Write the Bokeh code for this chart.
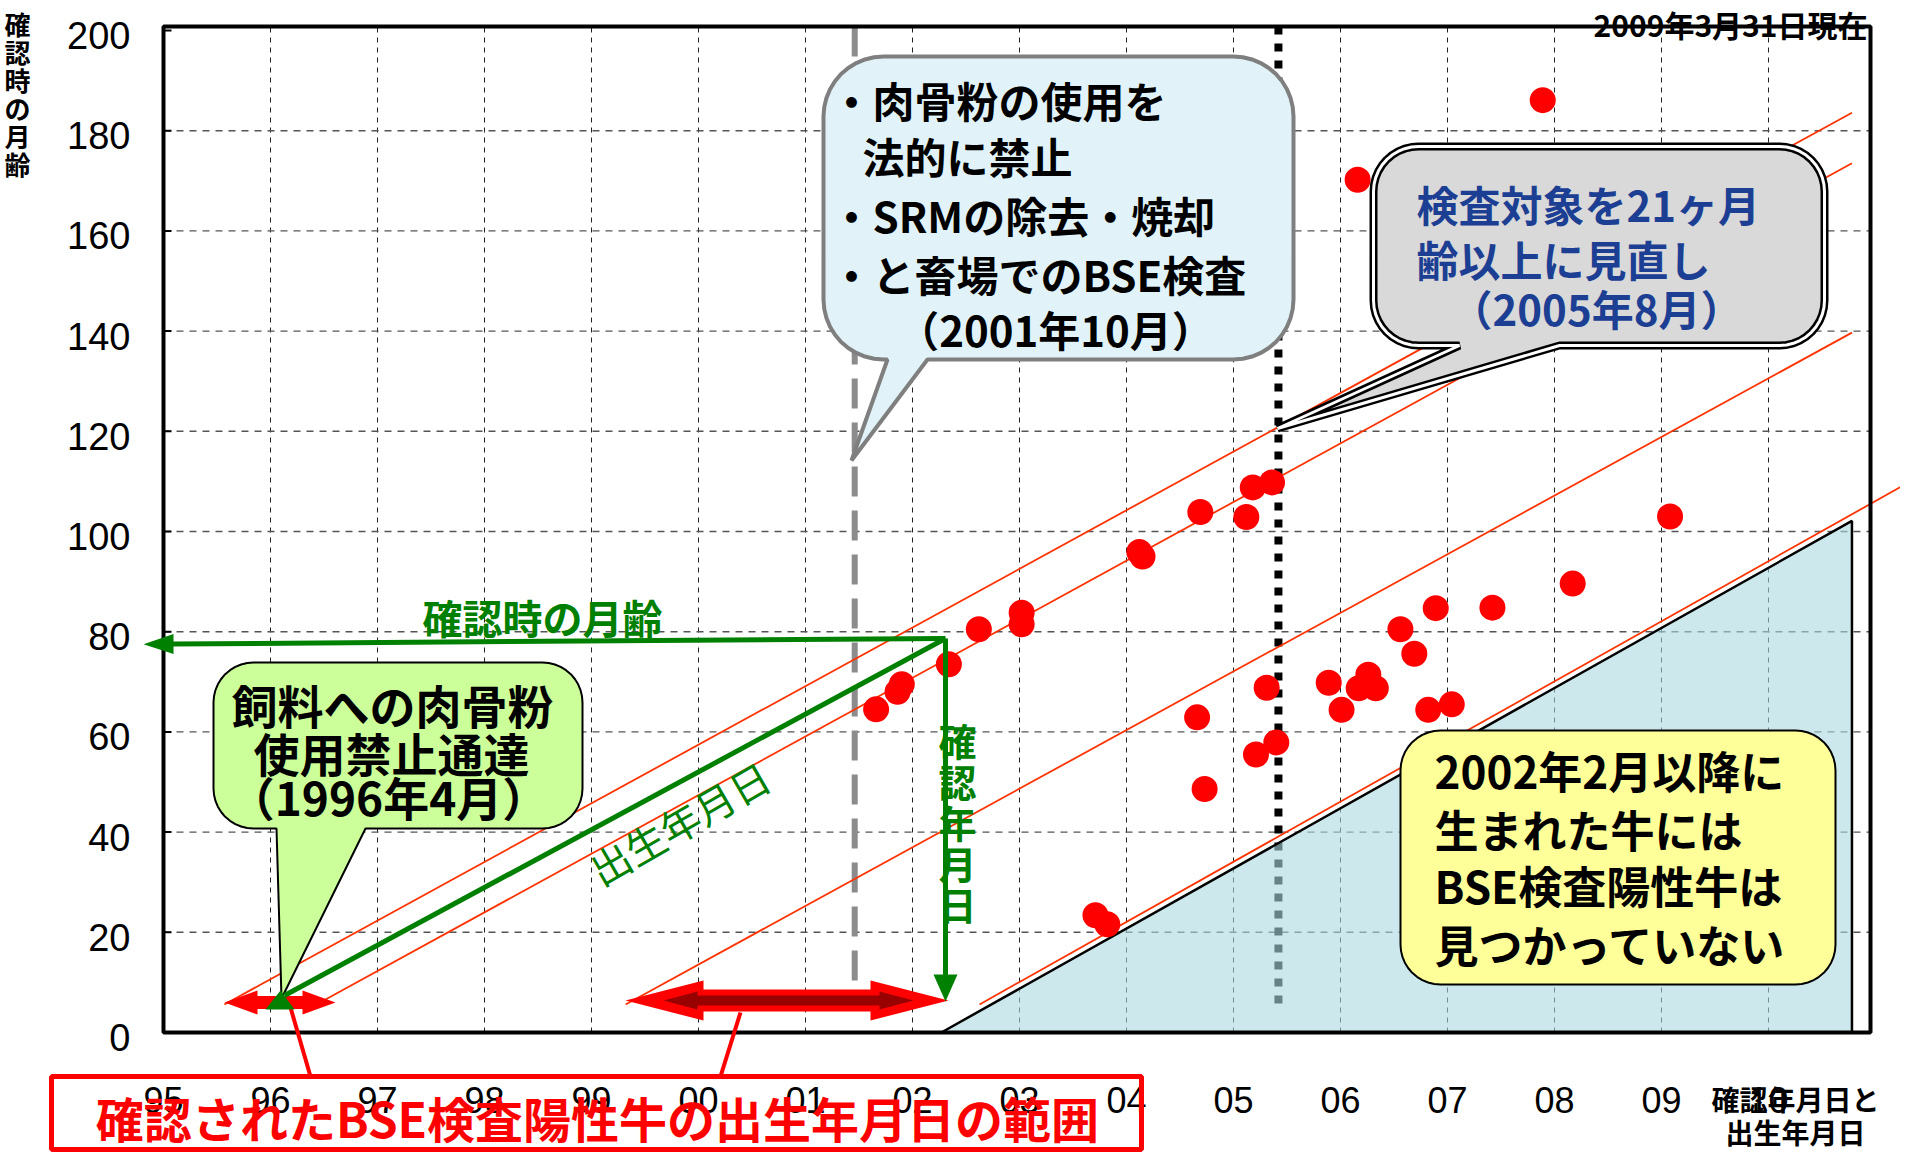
import numpy as np
from bokeh.plotting import figure
from bokeh.models import Range1d
from bokeh.core.properties import value
from bokeh.embed import file_html
from bokeh.resources import INLINE

# ---------------- data ----------------
# confirmation date (decimal year) and age in months at confirmation
CONF_DATE = [2001.66, 2001.86, 2001.90, 2002.34, 2002.62, 2003.02, 2003.02, 2003.71,
             2003.82, 2004.12, 2004.15, 2004.66, 2004.69, 2004.73, 2005.12, 2005.18,
             2005.21, 2005.31, 2005.36, 2005.40, 2005.89, 2006.01, 2006.16, 2006.17,
             2006.26, 2006.33, 2006.56, 2006.69, 2006.82, 2006.89, 2007.04, 2007.42,
             2007.89, 2008.17, 2009.08]
CONF_AGE = [64.5, 68.0, 69.5, 73.5, 80.5, 83.8, 81.5, 23.4,
            21.6, 95.9, 95.0, 62.9, 103.9, 48.6, 102.9, 108.8,
            55.5, 68.8, 109.8, 57.9, 69.8, 64.4, 170.2, 68.7,
            71.4, 68.7, 80.5, 75.6, 64.4, 84.7, 65.5, 84.8,
            186.1, 89.6, 103.0]

YEAR_TICKS = list(range(1995, 2011))
YEAR_LABELS = ["95", "96", "97", "98", "99", "00", "01", "02", "03", "04",
               "05", "06", "07", "08", "09", "10"]
AGE_TICKS = list(range(0, 201, 20))
AGE_LABELS = [str(a) for a in AGE_TICKS]

# birth-date reference lines (age grows with confirmation date)
LINE_BIRTH = [1995.09, 1995.95, 1998.84, 2002.16]
LINE_SLOPE = [11.7, 11.7, 11.7, 12.0]
LINE_END = [2010.78, 2010.78, 2010.78, 2011.5]
LINE_START_AGE = 5.6

FREE_BIRTH = 2002.27      # born Feb 2002 or later: no positives
FREE_END = 2010.78
EVENT_BAN = 2001.46       # 2001-10 legal ban / BSE testing
EVENT_REVIEW = 2005.42    # 2005-08 review to 21 months
EVENT_END_AGE = [8.6, 5.6]

FONT = "Noto Sans CJK JP"

# ---------------- layout ----------------
W, H, PAGE = 1900, 1152, 8
X0, X1, YB, YT = 171, 1878, 1040, 34          # plot box in reference pixels
T0 = 1995.0
T1 = T0 + (X1 - X0) / 107.0
A0 = 0.0
A1 = (YB - YT) / 5.01


def tx(X):
    return T0 + (X - X0) * (T1 - T0) / (X1 - X0)


def ay(Y):
    return A0 + (YB - Y) * (A1 - A0) / (YB - YT)


p = figure(width=W, height=H, output_backend="svg", toolbar_location=None,
           x_range=Range1d(tx(PAGE), tx(PAGE + W)),
           y_range=Range1d(ay(PAGE + H), ay(PAGE)),
           min_border=0)
p.background_fill_color = "white"
p.border_fill_color = "white"
p.outline_line_color = None
p.xaxis.visible = False
p.yaxis.visible = False
p.xgrid.visible = False
p.ygrid.visible = False

# ---------------- grid (inside plot box only) ----------------
gx = YEAR_TICKS[1:]
p.segment(x0=gx, x1=gx, y0=[A0] * len(gx), y1=[A1] * len(gx),
          line_color="#222222", line_width=1, line_dash="5 5")
gy = AGE_TICKS[1:-1]
p.segment(x0=[T0] * len(gy), x1=[T1] * len(gy), y0=gy, y1=gy,
          line_color="#555555", line_width=1.4, line_dash="7 6")

# ---------------- event lines ----------------
p.line([EVENT_BAN, EVENT_BAN], [A1, EVENT_END_AGE[0]], line_color="#8c8c8c",
       line_width=6, line_dash="30 14")
p.line([EVENT_REVIEW, EVENT_REVIEW], [A1, EVENT_END_AGE[1]], line_color="black",
       line_width=8, line_dash="8 9")

# ---------------- birth-date lines ----------------
for b, s, te in zip(LINE_BIRTH, LINE_SLOPE, LINE_END):
    ts = b + LINE_START_AGE / s
    p.line([ts, te], [LINE_START_AGE, s * (te - b)], line_color="#ff3300", line_width=1.8)

# shaded region
p.patch([FREE_BIRTH, FREE_END, FREE_END], [0, 12 * (FREE_END - FREE_BIRTH), 0],
        fill_color="#acd9df", fill_alpha=0.6, line_color="black", line_width=2.5)

# plot box and axis ticks
p.quad(left=[T0], right=[T1], bottom=[A0], top=[A1], fill_color=None,
       line_color="black", line_width=4)
p.segment(x0=[T0] * len(AGE_TICKS), y0=AGE_TICKS, x1=[tx(179)] * len(AGE_TICKS),
          y1=AGE_TICKS, line_color="black", line_width=2)
p.text(x=[tx(138)] * len(AGE_TICKS), y=[a - 1.0 for a in AGE_TICKS], text=AGE_LABELS,
       text_font=value("Liberation Sans"), text_font_size=value("38px"),
       text_color="black", text_align="right", text_baseline="middle")
p.text(x=YEAR_TICKS, y=[ay(1107)] * len(YEAR_TICKS), text=YEAR_LABELS,
       text_font=value("Liberation Sans"), text_font_size=value("36px"),
       text_color="black", text_align="center", text_baseline="middle")

# points
p.scatter(CONF_DATE, CONF_AGE, size=26, color="#ff0000", line_color=None)


# ---------------- helpers ----------------
def rbox(x0, y0, x1, y1, r, tail=None, n=10):
    pts = []

    def arc(cx, cy, a0, a1):
        for k in range(n + 1):
            a = np.radians(a0 + (a1 - a0) * k / n)
            pts.append((cx + r * np.cos(a), cy + r * np.sin(a)))
    arc(x0 + r, y0 + r, 180, 270)
    arc(x1 - r, y0 + r, 270, 360)
    arc(x1 - r, y1 - r, 0, 90)
    if tail:
        bl, br, tpx, tpy = tail
        pts += [(br, y1), (tpx, tpy), (bl, y1)]
    arc(x0 + r, y1 - r, 90, 180)
    return [tx(a) for a, _ in pts], [ay(b) for _, b in pts]


def poly(pts):
    return [tx(a) for a, _ in pts], [ay(b) for _, b in pts]


def darrow(xl, xr, yc, hl, hh, sh):
    return poly([(xl, yc), (xl + hl, yc - hh), (xl + hl, yc - sh), (xr - hl, yc - sh),
                 (xr - hl, yc - hh), (xr, yc), (xr - hl, yc + hh), (xr - hl, yc + sh),
                 (xl + hl, yc + sh), (xl + hl, yc + hh)])


def txt(items, size, color="black", align="left", bold=True, angle=0.0, baseline="middle"):
    p.text(x=[tx(i[1]) for i in items], y=[ay(i[2]) for i in items],
           text=[i[0] for i in items], text_font=value(FONT),
           text_font_size=value(f"{size}px"), text_color=color,
           text_align=align, text_baseline=baseline,
           text_font_style="bold" if bold else "normal", angle=angle)


# ---------------- callouts ----------------
xs, ys = rbox(831, 64, 1301, 367, 60, tail=(895, 935, 859, 468))
p.patch(xs, ys, fill_color="#e1f3f8", line_color="#7f7f7f", line_width=4)

xs, ys = rbox(1381, 154, 1832, 353, 45, tail=(1467, 1567, 1285, 436))
p.patch(xs, ys, fill_color="#d9d9d9", line_color="black", line_width=8)
p.patch(xs, ys, fill_color=None, line_color="white", line_width=3)

xs, ys = rbox(221, 670, 590, 836, 40, tail=(284, 373, 289, 1006))
p.patch(xs, ys, fill_color="#ccff99", line_color="black", line_width=2)

xs, ys = rbox(1408, 738, 1843, 992, 40)
p.patch(xs, ys, fill_color="#ffff99", line_color="black", line_width=2)

# ---------------- red range arrows ----------------
xs, ys = darrow(232, 343, 1010, 33, 12, 6.5)
p.patch(xs, ys, fill_color="#ff0000", line_color=None)
xs, ys = darrow(633, 956, 1008, 78, 20, 11)
p.patch(xs, ys, fill_color="#ff0000", line_color=None)
xs, ys = darrow(671, 921, 1008, 34, 9, 5)
p.patch(xs, ys, fill_color="#990000", line_color=None)

# connectors and range box
for a, b in (((298, 1015), (318, 1084)), ((748, 1020), (728, 1084))):
    xs, ys = poly([a, b])
    p.line(xs, ys, line_color="#ff0000", line_width=4)
xs, ys = poly([(59, 1084), (1149, 1084), (1149, 1157), (59, 1157)])
p.patch(xs, ys, fill_color=None, line_color="#ff0000", line_width=5)

# ---------------- green guide arrows ----------------
G = "#008000"
p.line([tx(953), tx(178)], [ay(646), ay(651.5)], line_color=G, line_width=5)
p.line([tx(953), tx(953)], [ay(646), ay(985)], line_color=G, line_width=5)
p.line([tx(953), tx(292)], [ay(646), ay(1003)], line_color=G, line_width=5)
for tri in ([(953, 1009), (941, 982), (965, 982)],
            [(273, 1017), (302, 1017), (288, 998)],
            [(151, 651.7), (181, 641.5), (181, 661.5)]):
    xs, ys = poly(tri)
    p.patch(xs, ys, fill_color=G, line_color=None)

# ---------------- texts ----------------
txt([("・肉骨粉の使用を", 838, 107), ("法的に禁止", 870, 163),
     ("・SRMの除去・焼却", 838, 222), ("・と畜場でのBSE検査", 838, 281)], 42)
txt([("（2001年10月）", 1063, 336)], 42, align="center")

txt([("検査対象を21ヶ月", 1424, 211), ("齢以上に見直し", 1424, 266)], 42, color="#1c3f94")
txt([("（2005年8月）", 1604, 315)], 42, color="#1c3f94", align="center")

txt([("飼料への肉骨粉", 400, 711), ("使用禁止通達", 399, 759), ("（1996年4月）", 396, 803)],
    46, align="center")

txt([("2002年2月以降に", 1442, 777), ("生まれた牛には", 1442, 836),
     ("BSE検査陽性牛は", 1442, 892), ("見つかっていない", 1442, 951)], 44)

txt([("確認時の月齢", 550, 624)], 40, color=G, align="center")
txt([("出生年月日", 687, 830)], 40, color=G, align="center", bold=False, angle=np.radians(30))
txt([(c, 965, 747 + i * 41) for i, c in enumerate("確認年月日")], 38, color=G, align="center")

txt([("確認されたBSE検査陽性牛の出生年月日の範囲", 605, 1124)], 48, color="#ff0000",
    align="center")
txt([("確認年月日と", 1803, 1106), ("出生年月日", 1803, 1139)], 28, align="center")
txt([("2009年3月31日現在", 1875, 31)], 30, align="right", baseline="alphabetic")
txt([(c, 25, 31 + i * 28) for i, c in enumerate("確認時の月齢")], 26, align="center")

open("out.html", "w").write(file_html(p, INLINE))
